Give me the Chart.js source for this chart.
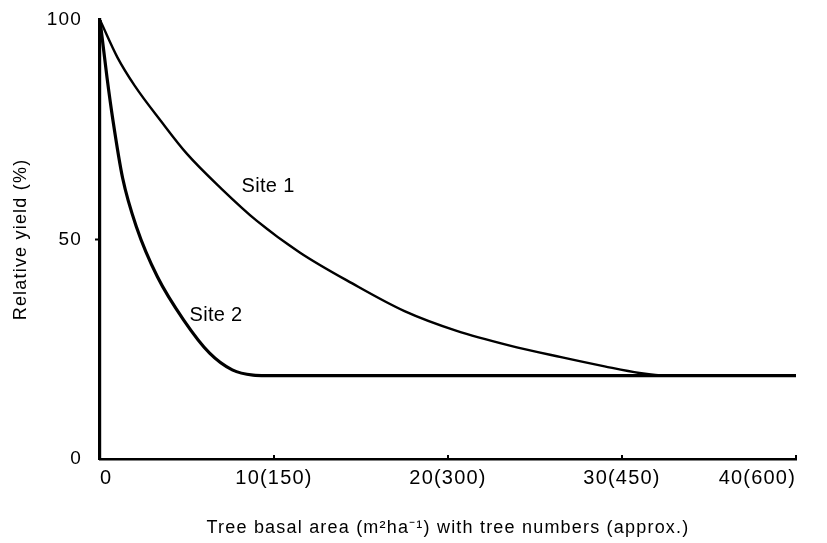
<!DOCTYPE html>
<html lang="en">
<head>
<meta charset="UTF-8">
<title>Relative yield and tree basal area</title>
<script src="https://cdn.jsdelivr.net/npm/chart.js"></script>
<style>
  body { margin: 0; background: #fff; }
  #wrap { width: 827px; height: 543px; }
</style>
</head>
<body>
<div id="wrap"><canvas id="chart" width="827" height="543"></canvas></div>
<script>
// values (x = basal area m2/ha, y = relative yield %)
var site1X = [0, 1, 2, 3.5, 5, 7, 9, 11.5, 14.5, 17.5, 20.5, 23.5, 26.5, 29, 31, 32.5, 40];
var site1Y = [100, 91.5, 85, 77, 69.5, 61.5, 54.3, 47, 40, 33.7, 29.2, 25.9, 23.2, 21.1, 19.6, 19, 19];
var site2X = [0, 0.4, 0.75, 1.3, 2.1, 3.3, 4.8, 6.3, 7.6, 8.8, 9.5, 40];
var site2Y = [100, 87, 77, 64, 52.8, 41.5, 31.7, 24.1, 20.3, 19.1, 19, 19];

var xTicks = [0, 10, 20, 30, 40];
var xTickLabels = ['0', '10(150)', '20(300)', '30(450)', '40(600)'];
var yTicks = [0, 50, 100];
var curveNames = ['Site 1', 'Site 2'];

function toPoints(xs, ys) {
  return xs.map(function(x, i) { return { x: x, y: ys[i] }; });
}

// text spacing like the printed figure
var spacingPlugin = {
  id: 'spacing',
  beforeUpdate: function(chart) { chart.ctx.letterSpacing = '1.2px'; },
  beforeDraw: function(chart) { chart.ctx.letterSpacing = '1.2px'; }
};

// curve names written next to the lines
var namePlugin = {
  id: 'names',
  afterDatasetsDraw: function(chart) {
    var ctx = chart.ctx;
    var xs = chart.scales.x, ys = chart.scales.y;
    var where = [[9.66, 62], [6.67, 32.8]];
    ctx.save();
    ctx.letterSpacing = '0.3px';
    ctx.font = '20px "Liberation Sans", Arial, sans-serif';
    ctx.fillStyle = '#000';
    ctx.textAlign = 'center';
    ctx.textBaseline = 'middle';
    curveNames.forEach(function(name, i) {
      ctx.fillText(name, xs.getPixelForValue(where[i][0]), ys.getPixelForValue(where[i][1]));
    });
    ctx.restore();
  }
};

// little tick marks on the axes
var tickPlugin = {
  id: 'innerTicks',
  afterDraw: function(chart) {
    var ctx = chart.ctx;
    var xs = chart.scales.x, ys = chart.scales.y;
    var area = chart.chartArea;
    ctx.save();
    ctx.strokeStyle = '#000';
    ctx.lineWidth = 2;
    ctx.beginPath();
    xTicks.slice(1).forEach(function(v) {
      var px = xs.getPixelForValue(v);
      ctx.moveTo(px, area.bottom);
      ctx.lineTo(px, area.bottom - 4);
    });
    var py = ys.getPixelForValue(50);
    ctx.moveTo(area.left, py);
    ctx.lineTo(area.left - 5, py);
    ctx.stroke();
    ctx.restore();
  }
};

var fontFamily = '"Liberation Sans", Arial, sans-serif';

var chart = new Chart(document.getElementById('chart'), {
  type: 'line',
  data: {
    datasets: [{
      label: curveNames[0],
      data: toPoints(site1X, site1Y),
      borderColor: '#000',
      borderWidth: 2.4,
      pointRadius: 0,
      cubicInterpolationMode: 'monotone',
      fill: false
    }, {
      label: curveNames[1],
      data: toPoints(site2X, site2Y),
      borderColor: '#000',
      borderWidth: 3.2,
      pointRadius: 0,
      cubicInterpolationMode: 'monotone',
      fill: false
    }]
  },
  options: {
    responsive: false,
    animation: false,
    events: [],
    layout: { padding: { top: 20, right: 31, left: 0, bottom: 0 } },
    plugins: {
      legend: { display: false },
      tooltip: { enabled: false }
    },
    scales: {
      x: {
        type: 'linear',
        min: 0,
        max: 40,
        grid: { display: false, drawTicks: false },
        border: { display: true, color: '#000', width: 2.6 },
        ticks: {
          stepSize: 10,
          padding: 7,
          align: 'inner',
          maxRotation: 0,
          color: '#000',
          font: { family: fontFamily, size: 20 },
          callback: function(v) {
            var i = xTicks.indexOf(v);
            return i < 0 ? '' : xTickLabels[i];
          }
        },
        title: {
          display: true,
          text: 'Tree basal area (m²ha⁻¹) with tree numbers (approx.)',
          color: '#000',
          font: { family: fontFamily, size: 18 },
          padding: { top: 0, bottom: 4 }
        },
        afterFit: function(scale) {
          scale.height = 84;
          scale.paddingLeft = 0;
          scale.paddingRight = 0;
        }
      },
      y: {
        min: 0,
        max: 100,
        grid: { display: false, drawTicks: false },
        border: { display: true, color: '#000', width: 3.2 },
        afterBuildTicks: function(scale) {
          scale.ticks = yTicks.map(function(v) { return { value: v }; });
        },
        ticks: {
          padding: 18,
          color: '#000',
          font: { family: fontFamily, size: 19 }
        },
        title: {
          display: true,
          text: 'Relative yield (%)',
          color: '#000',
          font: { family: fontFamily, size: 18 },
          padding: { top: 10, bottom: 0 }
        },
        afterFit: function(scale) {
          scale.width = 100;
          scale.paddingTop = 0;
          scale.paddingBottom = 0;
        }
      }
    }
  },
  plugins: [spacingPlugin, namePlugin, tickPlugin]
});
</script>
</body>
</html>
